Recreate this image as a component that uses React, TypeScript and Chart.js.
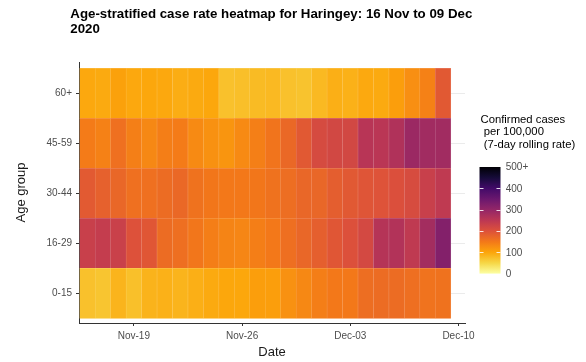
import { useEffect, useRef } from 'react';
import { Chart, registerables } from 'chart.js';

Chart.register(...registerables);

// ---------- data ----------
const titleLines = ['Age-stratified case rate heatmap for Haringey: 16 Nov to 09 Dec', '2020'];
const dates = [
  '16 Nov', '17 Nov', '18 Nov', '19 Nov', '20 Nov', '21 Nov', '22 Nov', '23 Nov', '24 Nov', '25 Nov',
  '26 Nov', '27 Nov', '28 Nov', '29 Nov', '30 Nov', '01 Dec', '02 Dec', '03 Dec', '04 Dec', '05 Dec',
  '06 Dec', '07 Dec', '08 Dec', '09 Dec',
];
const ageGroups = ['0-15', '16-29', '30-44', '45-59', '60+'];
const xTickDays = [3, 10, 17, 24];
const xTickLabels = ['Nov-19', 'Nov-26', 'Dec-03', 'Dec-10'];
const xTitle = 'Date';
const yTitle = 'Age group';

const rate0_15 = [72, 68, 85, 73, 86, 88, 85, 90, 95, 98, 98, 108, 108, 122, 132, 143, 150, 150, 163, 165, 165, 162, 157, 158];
const rate16_29 = [232, 238, 230, 200, 193, 165, 162, 153, 143, 137, 135, 143, 150, 162, 172, 182, 193, 202, 215, 258, 262, 245, 280, 320];
const rate30_44 = [188, 180, 172, 160, 160, 165, 170, 158, 152, 150, 150, 152, 158, 163, 172, 172, 183, 190, 195, 198, 203, 210, 232, 245];
const rate45_59 = [147, 140, 160, 142, 132, 143, 147, 130, 122, 118, 130, 142, 155, 170, 190, 212, 218, 218, 255, 253, 265, 290, 283, 283];
const rate60plus = [97, 95, 105, 97, 98, 97, 92, 95, 98, 72, 74, 78, 80, 72, 70, 80, 90, 88, 96, 95, 108, 125, 140, 190];
const rateRows = [rate0_15, rate16_29, rate30_44, rate45_59, rate60plus];

const legendTitle = ['Confirmed cases', ' per 100,000', ' (7-day rolling rate)'];
const legendTicks = [0, 100, 200, 300, 400, 500];
const legendTickLabels = ['0', '100', '200', '300', '400', '500+'];
const colorMax = 500;
const infernoStops = ['#000004', '#160B39', '#420A68', '#6A176E', '#932667', '#BC3754', '#DD513A', '#F37819', '#FCA50A', '#F6D746', '#FCFFA4'];

// ---------- helpers ----------
const FONT = "'Liberation Sans', Arial, sans-serif";

function hexToRgb(h: string) {
  const n = parseInt(h.slice(1), 16);
  return [(n >> 16) & 255, (n >> 8) & 255, n & 255];
}
function mixRgb(a: number[], b: number[], f: number) {
  return a.map((v, i) => v + (b[i] - v) * f);
}
function rgbStr(c: number[]) {
  return `rgb(${Math.round(c[0])},${Math.round(c[1])},${Math.round(c[2])})`;
}
function rateRgb(v: number) {
  const t = 1 - Math.min(Math.max(v, 0), colorMax) / colorMax;
  const p = t * (infernoStops.length - 1);
  const i = Math.min(Math.floor(p), infernoStops.length - 2);
  return mixRgb(hexToRgb(infernoStops[i]), hexToRgb(infernoStops[i + 1]), p - i);
}
const rateColor = (v: number) => rgbStr(rateRgb(v));
const rateBorder = (v: number) => rgbStr(mixRgb(rateRgb(v), [255, 255, 255], 0.28));

const overlayPlugin = {
  id: 'overlay',
  afterDraw(chart: any) {
    const ctx = chart.ctx as CanvasRenderingContext2D;
    ctx.save();
    // title
    ctx.fillStyle = '#000';
    ctx.font = `bold 13.3px ${FONT}`;
    ctx.textBaseline = 'alphabetic';
    ctx.textAlign = 'left';
    ctx.fillText(titleLines[0], 70.3, 17.8);
    ctx.fillText(titleLines[1], 70.3, 32.5);

    // legend title
    ctx.font = `11.3px ${FONT}`;
    ctx.fillStyle = '#000';
    const lb = [122.5, 135.3, 148];
    legendTitle.forEach((t, i) => ctx.fillText(t, 480.5, lb[i]));

    // colorbar
    const bx = 479.5, bw = 21, top = 167, bottom = 273.6;
    const yFor = (v: number) => bottom - (v / colorMax) * (bottom - top);
    const g = ctx.createLinearGradient(0, bottom, 0, top);
    for (let k = 0; k <= 20; k++) {
      g.addColorStop(k / 20, rateColor((k / 20) * colorMax));
    }
    ctx.fillStyle = g;
    ctx.fillRect(bx, top, bw, bottom - top);
    ctx.strokeStyle = 'rgba(255,255,255,0.85)';
    ctx.lineWidth = 1;
    legendTicks.forEach((v) => {
      if (v <= 0 || v >= colorMax) return;
      const y = Math.round(yFor(v)) + 0.5;
      ctx.beginPath();
      ctx.moveTo(bx, y); ctx.lineTo(bx + 4, y);
      ctx.moveTo(bx + bw - 4, y); ctx.lineTo(bx + bw, y);
      ctx.stroke();
    });
    ctx.fillStyle = '#4D4D4D';
    ctx.font = `10px ${FONT}`;
    ctx.textBaseline = 'middle';
    legendTicks.forEach((v, i) => ctx.fillText(legendTickLabels[i], 505.7, yFor(v) + 0.5));
    ctx.restore();
  },
};

export default function App() {
  const ref = useRef<HTMLCanvasElement>(null);
  useEffect(() => {
    if (!ref.current) return;
    const datasets = rateRows.map((row, r) => ({
      label: ageGroups[r],
      data: row.map((v, i) => ({ x: i, y: [r - 0.5, r + 0.5], v })),
      backgroundColor: row.map(rateColor),
      borderColor: row.map(rateBorder),
      borderWidth: 0.5,
      borderSkipped: false as any,
      barPercentage: 1,
      categoryPercentage: 1,
      grouped: false,
    }));
    const chart = new Chart(ref.current, {
      type: 'bar',
      data: { labels: dates, datasets: datasets as any },
      plugins: [overlayPlugin],
      options: {
        responsive: false,
        devicePixelRatio: 1,
        animation: false,
        events: [],
        layout: { padding: { left: 0, top: 62, right: 121, bottom: 0 } },
        plugins: { legend: { display: false }, tooltip: { enabled: false }, title: { display: false } },
        scales: {
          x: {
            type: 'linear',
            min: -0.55,
            max: 24.42,
            bounds: 'data',
            offset: false,
            afterFit: (s: any) => { s.height = 39; },
            afterBuildTicks: (s: any) => { s.ticks = xTickDays.map((v) => ({ value: v })); },
            grid: { offset: false, drawOnChartArea: false, drawTicks: true, tickLength: 3, tickColor: '#333', tickWidth: 1 },
            border: { display: true, color: '#333', width: 1 },
            ticks: {
              autoSkip: false, maxRotation: 0, padding: 4, color: '#4D4D4D',
              font: { family: FONT, size: 10 },
              callback: (v: any) => { const i = xTickDays.indexOf(Number(v)); return i >= 0 ? xTickLabels[i] : ''; },
            },
            title: { display: true, text: xTitle, color: '#1a1a1a', font: { family: FONT, size: 13 }, padding: { top: 0, bottom: 2 } },
          },
          y: {
            type: 'linear',
            min: -0.594,
            max: 4.626,
            bounds: 'data',
            afterFit: (s: any) => { s.width = 79; },
            afterBuildTicks: (s: any) => { s.ticks = ageGroups.map((_, i) => ({ value: i })); },
            grid: { drawOnChartArea: true, color: '#EBEBEB', lineWidth: 1, drawTicks: true, tickLength: 3, tickColor: '#333', tickWidth: 1 },
            border: { display: true, color: '#333', width: 1 },
            ticks: {
              autoSkip: false, padding: 4, color: '#4D4D4D',
              font: { family: FONT, size: 10 },
              callback: (v: any) => ageGroups[Number(v)] ?? '',
            },
            title: { display: true, text: yTitle, color: '#1a1a1a', font: { family: FONT, size: 13 }, padding: { top: 14, bottom: 0 } },
          },
        },
      } as any,
    });
    return () => chart.destroy();
  }, []);
  return (
    <div style={{ position: 'absolute', left: 0, top: 0, width: 586, height: 362, background: '#fff' }}>
      <canvas ref={ref} width={586} height={362} style={{ display: 'block' }} />
    </div>
  );
}
